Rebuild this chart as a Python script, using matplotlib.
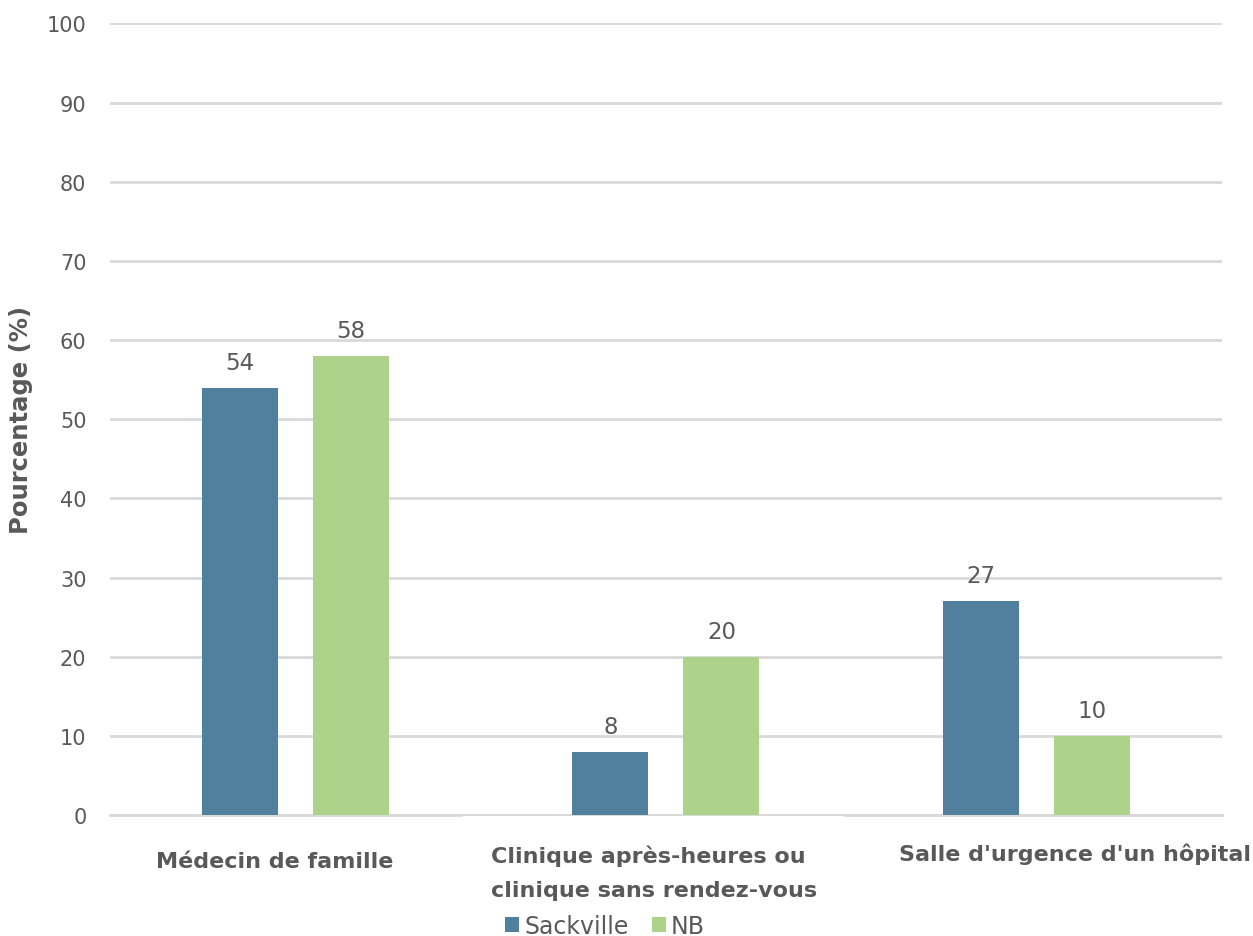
import numpy as np
import matplotlib.pyplot as plt
from matplotlib.patches import Patch

# Data
categories = ["Médecin de famille",
              "Clinique après-heures ou\nclinique sans rendez-vous",
              "Salle d'urgence d'un hôpital"]
series_names = ["Sackville", "NB"]
sackville = [54, 8, 27]
nb = [58, 20, 10]
yticks = [0, 10, 20, 30, 40, 50, 60, 70, 80, 90, 100]

colors = ["#51809E", "#ADD28A"]
text_color = "#595959"
grid_color = "#D9D9D9"

plt.rcParams['font.family'] = ['DejaVu Sans']

fig = plt.figure(figsize=(12.53, 9.37), dpi=100)
ax = fig.add_axes([0.0878, 0.129, 0.8872, 0.845])

x = np.arange(len(categories))
width = 0.205
offset = 0.15

bars1 = ax.bar(x - offset, sackville, width, color=colors[0], zorder=3)
bars2 = ax.bar(x + offset, nb, width, color=colors[1], zorder=3)

for bars, vals in [(bars1, sackville), (bars2, nb)]:
    for b, v in zip(bars, vals):
        ax.annotate(str(v), (b.get_x() + b.get_width() / 2, v),
                    xytext=(0, 10), textcoords='offset points',
                    ha='center', va='bottom', fontsize=16.5, color=text_color)

ax.set_xlim(-0.5, 2.5)
ax.set_ylim(0, 100)
ax.set_yticks(yticks)
ax.tick_params(axis='y', length=0, pad=17, labelsize=15, labelcolor=text_color)
ax.yaxis.grid(True, color=grid_color, linewidth=2)
ax.set_axisbelow(True)
for s in ['top', 'right', 'left']:
    ax.spines[s].set_visible(False)
ax.spines['bottom'].set_color(grid_color)
ax.spines['bottom'].set_linewidth(2)

ax.set_xticks(x)
ax.set_xticklabels([])
ax.tick_params(axis='x', length=0)
# category labels placed under the axis
label_pos = [(-0.055, -0.058, 'center'), (0.527, -0.072, 'left'), (2.105, -0.048, 'center')]
for cat, (xp, yp, ha) in zip(categories, label_pos):
    kw = {}
    if ha == 'left':
        kw['bbox'] = dict(facecolor='white', edgecolor='none', pad=20)
    ax.text(xp, yp, cat, transform=ax.get_xaxis_transform(), ha=ha, va='center',
            fontsize=16, fontweight='bold', color=text_color, linespacing=1.9,
            zorder=5, **kw)

ax.set_ylabel("Pourcentage (%)", fontsize=17.5, fontweight='bold', color=text_color, labelpad=10)

handles = [Patch(facecolor=c) for c in colors]
fig.legend(handles, series_names, loc='center', bbox_to_anchor=(0.483, 0.011),
           ncol=2, frameon=False, fontsize=17, handlelength=0.6, handleheight=0.6,
           handletextpad=0.2, columnspacing=1.0, labelcolor=text_color)

fig.savefig("out.png", dpi=100)
